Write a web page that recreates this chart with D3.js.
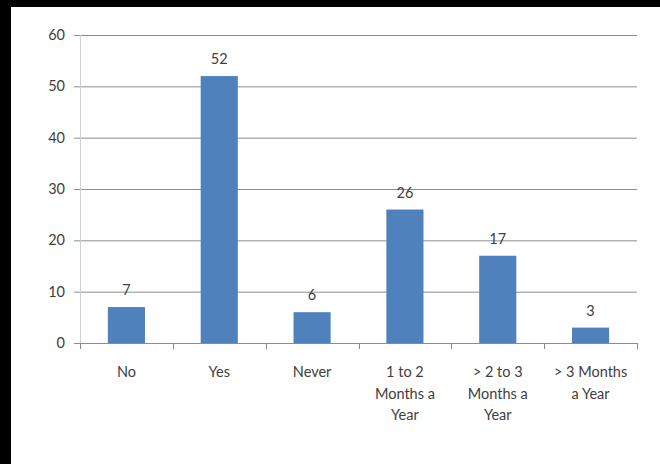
<!DOCTYPE html>
<html>
<head>
<meta charset="utf-8">
<script src="https://cdn.jsdelivr.net/npm/d3@7"></script>
<style>
  body { margin: 0; background: #000; }
  svg { display: block; }
  text { font-family: Lato, "Open Sans", sans-serif; fill: #404040; }
</style>
</head>
<body>
<svg width="660" height="464"></svg>
<script>
const categories = ["No", "Yes", "Never", "1 to 2 Months a Year", "> 2 to 3 Months a Year", "> 3 Months a Year"];
// labels wrapped like the original
const categoryLines = [["No"], ["Yes"], ["Never"], ["1 to 2", "Months a", "Year"], ["> 2 to 3", "Months a", "Year"], ["> 3 Months", "a Year"]];
const values = [7, 52, 6, 26, 17, 3];
const yTicks = [0, 10, 20, 30, 40, 50, 60];

const svg = d3.select("svg");

// white chart area on black
svg.append("rect")
    .attr("x", 11).attr("y", 7)
    .attr("width", 649).attr("height", 457)
    .attr("fill", "#fff");

const x = d3.scaleBand()
    .domain(categories)
    .range([80, 637])
    .paddingInner(0.6)
    .paddingOuter(0.3);

const y = d3.scaleLinear()
    .domain([0, 60])
    .range([343, 35]);

// gridlines
svg.append("g")
  .selectAll("line")
  .data(yTicks)
  .join("line")
    .attr("x1", 74).attr("x2", 637)
    .attr("y1", d => y(d) + 0.5).attr("y2", d => y(d) + 0.5)
    .attr("stroke", "#8c8c8c")
    .attr("stroke-width", 1);

// y axis line
svg.append("line")
    .attr("x1", 80.5).attr("x2", 80.5)
    .attr("y1", 35).attr("y2", 343)
    .attr("stroke", "#d0d0d0");

// y tick labels
svg.append("g")
  .selectAll("text")
  .data(yTicks)
  .join("text")
    .attr("x", 65)
    .attr("y", d => y(d))
    .attr("dy", "0.35em")
    .attr("text-anchor", "end")
    .style("font-size", "14.5px")
    .text(d => d);

// category ticks below axis
const bounds = d3.range(categories.length + 1).map(i => 80 + i * (557 / categories.length));
svg.append("g")
  .selectAll("line")
  .data(bounds)
  .join("line")
    .attr("x1", d => Math.round(d) + 0.5).attr("x2", d => Math.round(d) + 0.5)
    .attr("y1", 343).attr("y2", 349)
    .attr("stroke", "#888");

// bars
svg.append("g")
  .selectAll("rect")
  .data(values)
  .join("rect")
    .attr("x", (d, i) => x(categories[i]))
    .attr("y", d => y(d))
    .attr("width", x.bandwidth())
    .attr("height", d => y(0) - y(d))
    .attr("fill", "#4f81bd");

// value labels
svg.append("g")
  .selectAll("text")
  .data(values)
  .join("text")
    .attr("x", (d, i) => x(categories[i]) + x.bandwidth() / 2)
    .attr("y", d => y(d) - 12)
    .attr("text-anchor", "middle")
    .style("font-size", "14.5px")
    .text(d => d);

// category labels
const catG = svg.append("g")
  .selectAll("text")
  .data(categoryLines)
  .join("text")
    .attr("x", (d, i) => x(categories[i]) + x.bandwidth() / 2)
    .attr("y", 377)
    .attr("text-anchor", "middle")
    .style("font-size", "14.5px");

catG.selectAll("tspan")
  .data(d => d)
  .join("tspan")
    .attr("x", function() { return this.parentNode.getAttribute("x"); })
    .attr("dy", (d, i) => i === 0 ? 0 : 21.6)
    .text(d => d);
</script>
</body>
</html>
